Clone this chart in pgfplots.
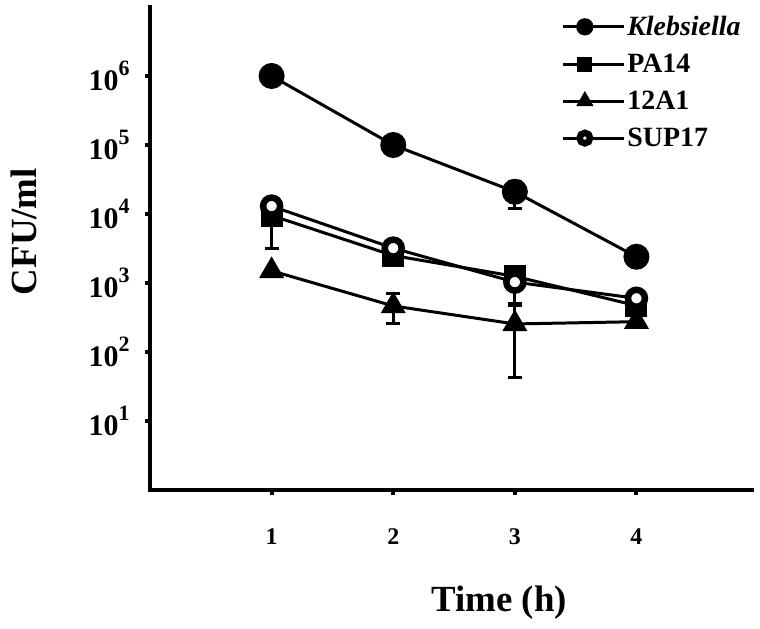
\documentclass[border=0pt]{standalone}
\usepackage{fontspec}
\setmainfont{Liberation Serif}
\usepackage{pgfplots}
\pgfplotsset{compat=1.18}
\newcommand{\tp}[1]{\fontsize{30}{30}\selectfont\bfseries 10\raisebox{0.48em}{\fontsize{22}{22}\selectfont #1}}
\newcommand{\tx}[1]{\fontsize{24}{24}\selectfont\bfseries #1}
\begin{document}
\begin{tikzpicture}
\begin{axis}[name=ax,
  scale only axis, width=602bp, height=483bp,
  xmin=0, xmax=4.95, ymin=1, ymax=1e7, ymode=log,
  axis lines=left,
  axis line style={-, line width=4.5bp, line cap=rect},
  xtick={1,2,3,4}, xticklabels={\tx{1},\tx{2},\tx{3},\tx{4}},
  ytick={10,100,1000,10000,100000,1000000},
  yticklabels={\tp{1},\tp{2},\tp{3},\tp{4},\tp{5},\tp{6}},
  yminorticks=false,
  tick align=outside, major tick length=5bp,
  tick style={line width=4bp, black},
  xticklabel style={yshift=-30bp},
  yticklabel style={xshift=-12bp},
  xlabel={Time (h)}, ylabel={CFU/ml},
  label style={font=\fontsize{37}{37}\selectfont\bfseries},
  xlabel style={at={(axis description cs:0.58,-0.234)}, anchor=center},
  ylabel style={at={(axis description cs:-0.21,0.535)}, anchor=center},
  clip=false,
  legend style={draw=none, fill=none, at={(axis description cs:0.683,0.985)}, anchor=north west,
    font=\fontsize{28}{28}\selectfont\bfseries, row sep=13bp, inner sep=0pt},
  legend cell align=left,
  legend image code/.code={\draw[every mark/.append style={scale=0.62}, mark repeat=2, mark phase=2] plot coordinates {(0bp,0bp) (22bp,0bp) (61bp,0bp)};},
  every axis plot/.append style={black, line width=3bp},
  error bars/error bar style={line width=3bp, black},
  error bars/error mark options={line width=3bp, mark size=7bp, black, rotate=90},
]
\addplot[mark=*, mark size=11.5bp, error bars/.cd, y dir=both, y explicit]
  coordinates {(1,1e6) (2,1e5) (3,2.1e4) +- (0,8800) (4,2400)};
\addlegendentry{\textit{Klebsiella}}
\addplot[mark=square*, mark size=9.5bp, error bars/.cd, y dir=both, y explicit]
  coordinates {(1,9500) +- (0,6350) (2,2500) (3,1250) (4,470)};
\addlegendentry{PA14}
\addplot[mark=triangle*, mark size=11.5bp, error bars/.cd, y dir=both, y explicit]
  coordinates {(1,1500) (2,465) += (0,250) -= (0,210) (3,255) +- (0,213) (4,275)};
\addlegendentry{12A1}
\addplot[mark=*, mark size=8.5bp, mark options={fill=white, draw=black, line width=6.5bp}, error bars/.cd, y dir=both, y explicit]
  coordinates {(1,13000) (2,3200) (3,1030) +- (0,520) (4,600)};
\addlegendentry{SUP17}
\end{axis}
\path ([shift={(-150bp,-139bp)}]ax.south west) rectangle ([shift={(8bp,7bp)}]ax.north east);
\end{tikzpicture}
\end{document}
